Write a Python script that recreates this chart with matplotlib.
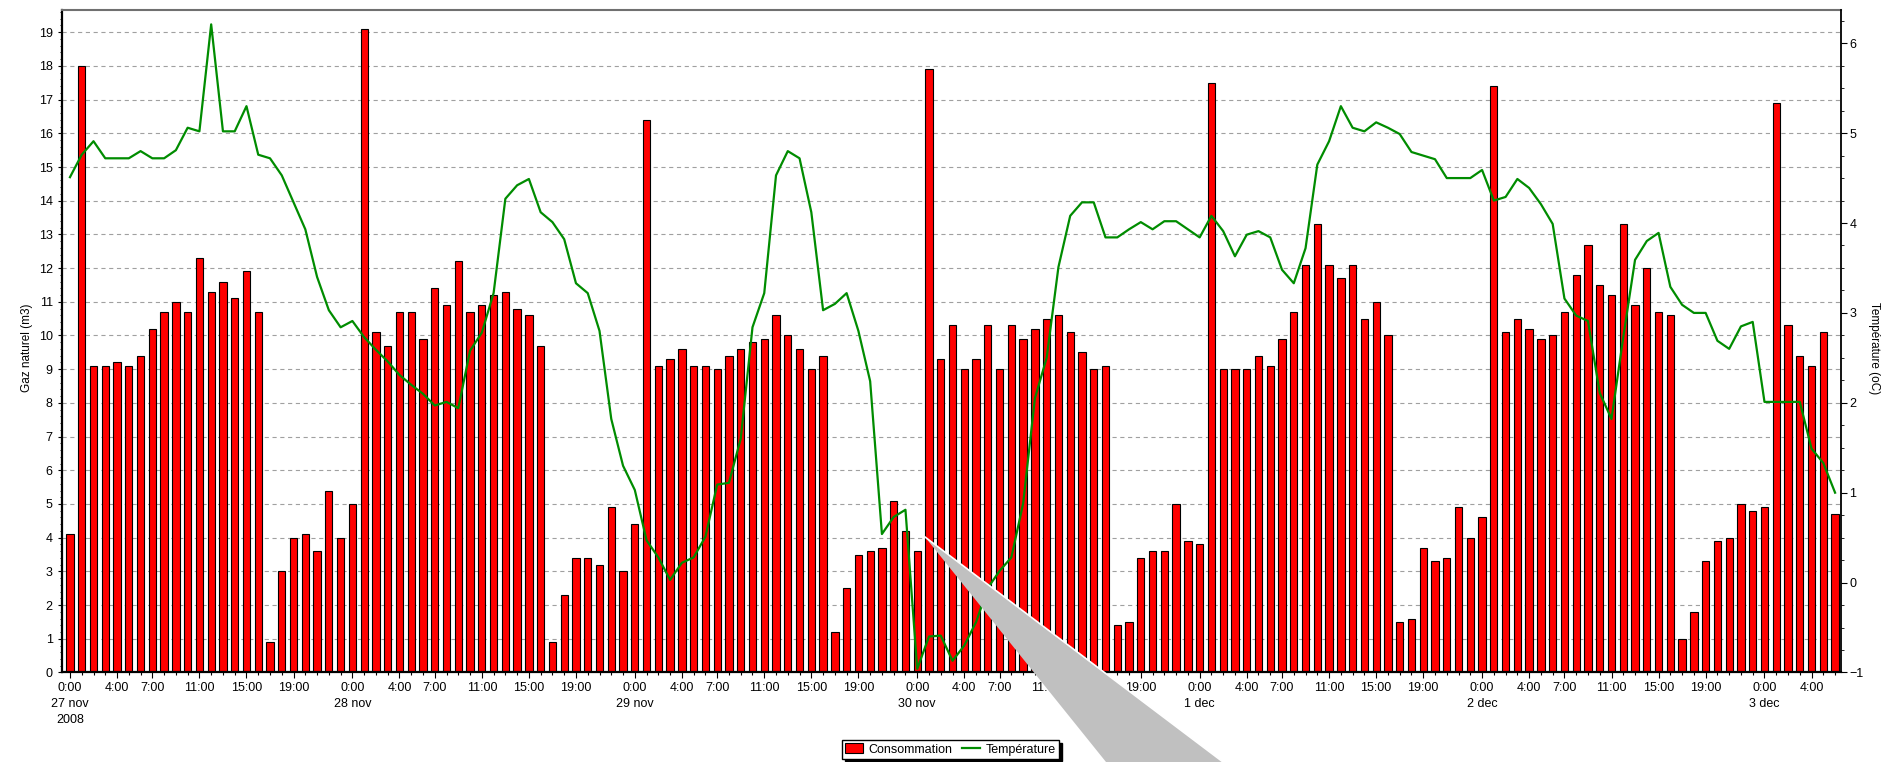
import numpy as np
import matplotlib
matplotlib.use("Agg")
import matplotlib.pyplot as plt
from matplotlib.patches import Polygon
from matplotlib.lines import Line2D
from matplotlib.ticker import MultipleLocator, FixedLocator

plt.rcParams['font.family'] = ['Liberation Sans', 'DejaVu Sans']
plt.rcParams['font.size'] = 9
plt.rcParams['lines.scale_dashes'] = False

# hourly gas consumption (m3), 27 nov 2008 0:00 -> 3 dec 6:00
conso = [
    # 27 nov
    4.1, 18.0, 9.1, 9.1, 9.2, 9.1, 9.4, 10.2, 10.7, 11.0, 10.7, 12.3,
    11.3, 11.6, 11.1, 11.9, 10.7, 0.9, 3.0, 4.0, 4.1, 3.6, 5.4, 4.0,
    # 28 nov
    5.0, 19.1, 10.1, 9.7, 10.7, 10.7, 9.9, 11.4, 10.9, 12.2, 10.7, 10.9,
    11.2, 11.3, 10.8, 10.6, 9.7, 0.9, 2.3, 3.4, 3.4, 3.2, 4.9, 3.0,
    # 29 nov
    4.4, 16.4, 9.1, 9.3, 9.6, 9.1, 9.1, 9.0, 9.4, 9.6, 9.8, 9.9,
    10.6, 10.0, 9.6, 9.0, 9.4, 1.2, 2.5, 3.5, 3.6, 3.7, 5.1, 4.2,
    # 30 nov
    3.6, 17.9, 9.3, 10.3, 9.0, 9.3, 10.3, 9.0, 10.3, 9.9, 10.2, 10.5,
    10.6, 10.1, 9.5, 9.0, 9.1, 1.4, 1.5, 3.4, 3.6, 3.6, 5.0, 3.9,
    # 1 dec
    3.8, 17.5, 9.0, 9.0, 9.0, 9.4, 9.1, 9.9, 10.7, 12.1, 13.3, 12.1,
    11.7, 12.1, 10.5, 11.0, 10.0, 1.5, 1.6, 3.7, 3.3, 3.4, 4.9, 4.0,
    # 2 dec
    4.6, 17.4, 10.1, 10.5, 10.2, 9.9, 10.0, 10.7, 11.8, 12.7, 11.5, 11.2,
    13.3, 10.9, 12.0, 10.7, 10.6, 1.0, 1.8, 3.3, 3.9, 4.0, 5.0, 4.8,
    # 3 dec
    4.9, 16.9, 10.3, 9.4, 9.1, 10.1, 4.7,
]

# hourly temperature (oC)
temp = [
    # 27 nov
    4.51, 4.76, 4.91, 4.72, 4.72, 4.72, 4.80, 4.72, 4.72, 4.81, 5.06, 5.02,
    6.21, 5.02, 5.02, 5.30, 4.76, 4.72, 4.53, 4.23, 3.93, 3.40, 3.03, 2.84,
    # 28 nov
    2.91, 2.73, 2.59, 2.46, 2.31, 2.20, 2.10, 1.97, 2.01, 1.94, 2.58, 2.78,
    3.22, 4.27, 4.42, 4.49, 4.12, 4.01, 3.82, 3.33, 3.22, 2.80, 1.82, 1.30,
    # 29 nov
    1.03, 0.47, 0.28, 0.03, 0.22, 0.28, 0.51, 1.09, 1.11, 1.60, 2.84, 3.22,
    4.53, 4.80, 4.72, 4.12, 3.03, 3.10, 3.22, 2.80, 2.24, 0.54, 0.73, 0.81,
    # 30 nov
    -0.96, -0.60, -0.59, -0.87, -0.70, -0.44, -0.06, 0.13, 0.28, 0.88, 2.05, 2.50,
    3.51, 4.08, 4.23, 4.23, 3.84, 3.84, 3.93, 4.01, 3.93, 4.02, 4.02, 3.93,
    # 1 dec
    3.84, 4.08, 3.91, 3.63, 3.87, 3.91, 3.84, 3.48, 3.33, 3.72, 4.65, 4.91,
    5.30, 5.06, 5.02, 5.12, 5.06, 4.99, 4.79, 4.75, 4.71, 4.50, 4.50, 4.50,
    # 2 dec
    4.59, 4.25, 4.29, 4.49, 4.39, 4.21, 3.99, 3.16, 2.97, 2.91, 2.11, 1.82,
    2.73, 3.59, 3.80, 3.89, 3.29, 3.09, 3.00, 3.00, 2.69, 2.60, 2.85, 2.90,
    # 3 dec
    2.01, 2.01, 2.01, 2.01, 1.49, 1.33, 1.00,
]

days = ["27 nov\n2008", "28 nov", "29 nov", "30 nov", "1 dec", "2 dec", "3 dec"]
label_hours = [0, 4, 7, 11, 15, 19]

hours = np.arange(len(conso))

fig = plt.figure(figsize=(18.82, 7.62), dpi=100)
ax = fig.add_axes([0.0328, 0.1175, 0.9454, 0.8694])

ax.yaxis.grid(True, color='#a0a0a0', linestyle=(0, (3, 2.6)), linewidth=0.8)
ax.set_axisbelow(True)
bars = ax.bar(hours, conso, width=0.62, color='#ff0000', edgecolor='black',
              linewidth=0.8, label='Consommation', zorder=2)

ax.set_xlim(-0.7, 150.5)
ax.set_ylim(0, 19.66)
ax.set_yticks(range(0, 20))
ax.yaxis.set_minor_locator(MultipleLocator(0.2))

# x ticks: labelled hours + one minor tick per hour
ticks, labels = [], []
for d, name in enumerate(days):
    for h in label_hours:
        t = d * 24 + h
        if t < len(conso):
            ticks.append(t)
            labels.append("0:00\n" + name if h == 0 else "%d:00" % h)
ax.set_xticks(ticks)
ax.set_xticklabels(labels)
ax.xaxis.set_minor_locator(FixedLocator(hours))
for lbl in ax.get_xticklabels():
    lbl.set_linespacing(1.45)

ax.tick_params(axis='x', which='major', length=4, width=0.8, pad=3)
ax.tick_params(axis='x', which='minor', length=2.5, width=0.8)
ax.tick_params(axis='y', which='major', length=3, width=0.8, pad=3.5)
ax.tick_params(axis='y', which='minor', length=1.5, width=0.6)

for side in ['left', 'bottom']:
    ax.spines[side].set_linewidth(1.6)
ax.spines['right'].set_visible(False)
ax.spines['top'].set_color('#707070')
ax.spines['top'].set_linewidth(1.5)

ax2 = ax.twinx()
line, = ax2.plot(hours, temp, color='#008c00', linewidth=1.6, label='Température')
ax2.set_ylim(-1, 6.37)
ax2.set_yticks(range(-1, 7))
ax2.yaxis.set_minor_locator(MultipleLocator(0.25))
ax2.tick_params(axis='y', which='major', length=4, width=0.8, pad=2)
ax2.tick_params(axis='y', which='minor', length=2.5, width=0.6)
ax2.spines['right'].set_linewidth(1.3)
for side in ['left', 'top', 'bottom']:
    ax2.spines[side].set_visible(False)

fig.text(0.0143, 0.543, "Gaz naturel (m3)", rotation=90, ha='center', va='center', fontsize=8.5)
fig.text(0.9957, 0.543, "Température (oC)", rotation=270, ha='center', va='center', fontsize=8.5)

leg = fig.legend(handles=[bars, line], loc='center', bbox_to_anchor=(0.505, 0.0167),
                 ncol=2, frameon=True, fancybox=False, edgecolor='black', framealpha=1,
                 shadow={'color': 'black', 'alpha': 1}, borderpad=0.25, handlelength=1.45,
                 handleheight=0.9, handletextpad=0.4, columnspacing=0.8, borderaxespad=0,
                 fontsize=9)
leg.get_frame().set_linewidth(1.0)

# grey callout pointer drawn over the chart
W, H = 1882.0, 762.0
apex = (925 / W, 1 - 537 / H)
tri = Polygon([apex, (1106 / W, 0.0), (1223 / W, 0.0)], closed=True,
              transform=fig.transFigure, facecolor='#c0c0c0', edgecolor='none', zorder=10)
fig.add_artist(tri)
fig.add_artist(Line2D([apex[0], 1223 / W], [apex[1], 0.0], transform=fig.transFigure,
                      color='white', linewidth=1.2, zorder=11))

fig.savefig("out.png", dpi=100)
